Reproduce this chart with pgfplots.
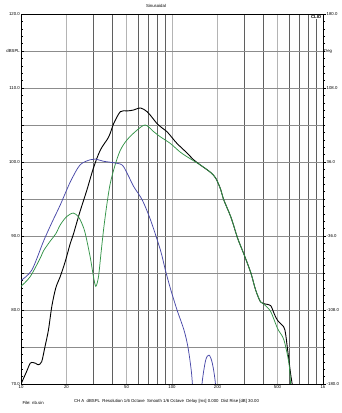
\documentclass[border=0pt]{standalone}
\usepackage{fontspec}
\setmainfont{Liberation Sans}
\usepackage{pgfplots}
\pgfplotsset{compat=1.18}
\definecolor{cblue}{RGB}{72,72,168}
\definecolor{cgreen}{RGB}{52,148,72}
\definecolor{glight}{RGB}{180,180,180}
\definecolor{gmid}{RGB}{140,140,140}
\definecolor{gdark}{RGB}{95,95,95}
\newcommand\tf{\fontsize{4.3}{5}\selectfont}
\begin{document}
\begin{tikzpicture}[x=1pt,y=1pt]
\path[use as bounding box] (0,0) rectangle (342,413);
\begin{axis}[
  at={(21pt,29pt)}, anchor=south west, scale only axis,
  width=302pt, height=370pt,
  xmode=log, xmin=10, xmax=1000, ymin=70, ymax=120,
  axis line style={black, line width=0.6pt},
  xtick={10,20,50,100,200,500,1000},
  xticklabels={10,20,50,100,200,500,1k},
  minor xtick={30,40,60,70,80,90,300,400,600,700,800,900},
  xmajorgrids, xminorgrids,
  major x grid style={glight, line width=1pt},
  minor x grid style={gdark, line width=0.45pt},
  xtick style={draw=none},
  minor x tick style={draw=none},
  ytick={70,80,...,120},
  yticklabels={70.0,80.0,90.0,100.0,110.0,120.0},
  extra y ticks={75,85,95,105,115},
  extra y tick labels={,,,,dBSPL},
  extra y tick style={grid=major, major grid style={gdark, line width=0.5pt}},
  ymajorgrids,
  major y grid style={gmid, line width=0.8pt},
  minor y tick num=9,
  ytick pos=left,
  tick align=inside,
  major tick length=3pt, minor tick length=2pt,
  yticklabel style={font=\tf, inner sep=1pt},
  xticklabel style={font=\tf, inner sep=1pt},
  tick style={black, line width=0.3pt},
]
\addplot[black, line width=0.9pt, smooth] table {
10 70.0
10.9 71.7
11.5 72.8
12.0 72.9
12.5 72.8
13.0 72.6
13.7 73.0
14.4 75.0
15.2 77.3
16.0 80.5
17.0 83.0
18.1 84.4
19.6 86.5
21.2 89.0
22.2 90.2
24.5 93.2
27.3 96.2
30.2 99.2
33.5 101.6
38.1 103.4
41.1 105.2
45.5 106.8
50.4 106.9
55 107.0
61.9 107.3
68.4 106.8
74 106.0
79.5 105.2
86 104.6
92.6 104.1
100 103.3
108 102.5
126 101.2
139 100.3
154 99.6
180 98.6
195 97.8
210 96.3
220 94.9
246 92.5
272 89.7
300 87.5
333 85.0
358 82.7
386 81.1
417 80.8
450 80.6
475 79.5
500 78.6
550 77.7
565 76.8
580 75.0
610 71.4
625 70.0
640 68.0
};
\addplot[cgreen, line width=0.75pt, smooth] table {
10 83.2
11.5 84.5
13.4 87.0
14.1 88.0
15.6 89.3
17 90.3
18.2 91.5
20 92.6
22.2 93.1
24.0 92.6
25.3 91.7
26.6 90.4
28.7 87.2
30.2 84.5
31.3 83.2
32.6 84.5
33.8 87.5
35.2 90.8
37 94.2
39.0 97.1
42 99.6
45.5 101.6
50.4 103.0
58.6 104.3
66.6 105.0
75.6 104.1
83.8 103.4
97.6 102.5
114 101.3
133 100.4
154 99.6
180 98.6
195 97.8
210 96.3
220 94.9
246 92.5
272 89.7
300 87.5
333 85.0
358 82.7
386 81.1
405 80.8
450 79.8
500 77.5
550 76.0
595 72.8
610 70.0
620 68.0
};
\addplot[cblue, line width=0.75pt, smooth] table {
10 84.0
11.8 85.4
14.1 89.3
16 91.8
18.2 94.2
21.2 97.3
24.6 99.6
28.7 100.3
31 100.4
35.2 100.1
41.1 99.9
46.7 99.6
50.4 98.5
55.7 96.7
63.4 94.9
72 92.2
83.8 88.1
90.4 85.4
97.6 82.9
108 80.0
120 77.3
127.5 75.0
134 71.9
137 69.5
140 66
155 66
158 70
167 73.2
176 73.9
185 72.8
194 70
197 66
};
\end{axis}
\begin{axis}[
  at={(21pt,29pt)}, anchor=south west, scale only axis,
  width=302pt, height=370pt,
  xmode=log, xmin=10, xmax=1000, ymin=-180, ymax=180,
  axis x line=none, axis y line*=right,
  axis line style={black, line width=0.6pt},
  ytick={-180,-108,-36,36,108,180},
  yticklabels={-180.0,-108.0,-36.0,36.0,108.0,180.0},
  extra y ticks={144}, extra y tick labels={Deg},
  extra y tick style={major tick length=0pt},
  minor y tick num=9,
  tick align=outside,
  major tick length=2.5pt, minor tick length=2pt,
  tick style={black, line width=0.3pt},
  yticklabel style={font=\tf, inner sep=1pt},
]
\end{axis}
\node[font=\tf] at (156,407) {Sinusoidal};
\node[font=\tf\bfseries, fill=white, inner sep=0.5pt, anchor=east] at (322,396) {CLIO};
\node[font=\tf, anchor=west] at (70.5,12) {CH A\ \ dBSPL\ \ Resolution 1/6 Octave\ \ Smooth 1/6 Octave\ \ Delay [ms] 0.000\ \ Dist Rise [dB] 30.00};
\node[font=\tf, anchor=west] at (19,10) {File: nb.sin};
\end{tikzpicture}
\end{document}
